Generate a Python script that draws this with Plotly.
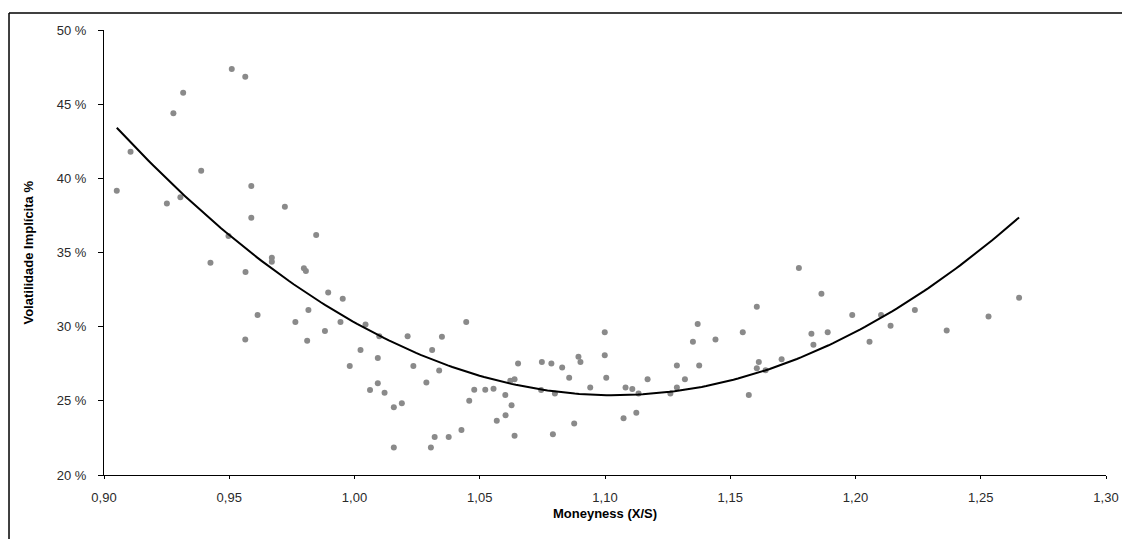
import numpy as np
import plotly.graph_objects as go

# Moneyness (X/S) and implied volatility (%)
moneyness = [
    0.9051, 0.9106, 0.9251, 0.9277, 0.9305, 0.9316, 0.9388, 0.9425, 0.9497, 0.9510,
    0.9564, 0.9564, 0.9565, 0.9588, 0.9588, 0.9613, 0.9670, 0.9670, 0.9722, 0.9764,
    0.9798, 0.9806, 0.9811, 0.9816, 0.9847, 0.9882, 0.9895, 0.9944, 0.9953, 0.9981,
    1.0024, 1.0044, 1.0062, 1.0093, 1.0093, 1.0099, 1.0120, 1.0157, 1.0157, 1.0189,
    1.0212, 1.0235, 1.0287, 1.0305, 1.0310, 1.0320, 1.0338, 1.0349, 1.0376, 1.0427,
    1.0446, 1.0458, 1.0478, 1.0522, 1.0555, 1.0568, 1.0602, 1.0603, 1.0622, 1.0627,
    1.0639, 1.0639, 1.0653, 1.0745, 1.0748, 1.0786, 1.0792, 1.0800, 1.0829, 1.0857,
    1.0877, 1.0894, 1.0902, 1.0941, 1.0999, 1.0999, 1.1005, 1.1074, 1.1082, 1.1109,
    1.1125, 1.1134, 1.1170, 1.1261, 1.1287, 1.1287, 1.1319, 1.1351, 1.1370, 1.1376,
    1.1441, 1.1550, 1.1574, 1.1606, 1.1606, 1.1614, 1.1641, 1.1705, 1.1774, 1.1824,
    1.1832, 1.1864, 1.1889, 1.1987, 1.2056, 1.2102, 1.2140, 1.2237, 1.2364, 1.2531,
    1.2653,
]
vol_implicita = [
    39.16, 41.80, 38.31, 44.38, 38.73, 45.77, 40.51, 34.31, 36.11, 47.37,
    46.85, 29.14, 33.68, 39.48, 37.34, 30.78, 34.65, 34.38, 38.09, 30.31,
    33.93, 33.75, 29.05, 31.12, 36.18, 29.70, 32.31, 30.31, 31.88, 27.34,
    28.42, 30.15, 25.73, 27.88, 26.18, 29.35, 25.55, 24.56, 21.86, 24.83,
    29.35, 27.34, 26.24, 21.86, 28.42, 22.56, 27.04, 29.32, 22.56, 23.03,
    30.31, 25.00, 25.75, 25.75, 25.82, 23.66, 25.39, 24.02, 26.35, 24.71,
    26.45, 22.64, 27.52, 25.73, 27.61, 27.52, 22.74, 25.50, 27.25, 26.56,
    23.48, 27.97, 27.61, 25.90, 29.62, 28.08, 26.56, 23.82, 25.90, 25.79,
    24.19, 25.50, 26.45, 25.50, 27.39, 25.90, 26.45, 28.98, 30.18, 27.39,
    29.14, 29.62, 25.39, 31.34, 27.19, 27.61, 27.07, 27.81, 33.95, 29.52,
    28.78, 32.22, 29.62, 30.78, 28.98, 30.78, 30.07, 31.12, 29.75, 30.69,
    31.95,
]

x_ticks = [0.90, 0.95, 1.00, 1.05, 1.10, 1.15, 1.20, 1.25, 1.30]
x_ticktext = ["0,90", "0,95", "1,00", "1,05", "1,10", "1,15", "1,20", "1,25", "1,30"]
y_ticks = [20, 25, 30, 35, 40, 45, 50]
y_ticktext = ["20 %", "25 %", "30 %", "35 %", "40 %", "45 %", "50 %"]

# Polynomial (order 2) trendline fitted on the data, as in the original chart
xa = np.array(moneyness)
ya = np.array(vol_implicita)
coef = np.polyfit(xa, ya, 2)
x_fit = np.linspace(xa.min(), xa.max(), 200)
y_fit = np.polyval(coef, x_fit)

fig = go.Figure()
fig.add_trace(go.Scatter(
    x=moneyness, y=vol_implicita, mode="markers",
    marker=dict(color="#8a8a8a", size=6, symbol="circle", line=dict(width=0)),
    showlegend=False, hoverinfo="x+y",
))
fig.add_trace(go.Scatter(
    x=x_fit, y=y_fit, mode="lines",
    line=dict(color="black", width=2),
    showlegend=False, hoverinfo="skip",
))

font_ticks = dict(family="Liberation Sans, Arial, sans-serif", size=13, color="#2a2a2a")
title_font = dict(family="Liberation Sans, Arial, sans-serif", size=13, color="black")
border = dict(color="black", width=1.5)
fig.update_layout(
    # the page body adds an 8px offset; the figure is sized to fit the rest
    width=1122, height=531,
    margin=dict(l=96, r=24, t=22, b=64),
    paper_bgcolor="white", plot_bgcolor="white",
    xaxis=dict(
        range=[0.90, 1.30], tickvals=x_ticks, ticktext=x_ticktext,
        showline=True, linecolor="black", linewidth=1, mirror=False,
        ticks="outside", ticklen=3, tickcolor="black", ticklabelstandoff=7,
        showgrid=False, zeroline=False, tickfont=font_ticks,
    ),
    yaxis=dict(
        range=[20, 50], tickvals=y_ticks, ticktext=y_ticktext,
        showline=True, linecolor="black", linewidth=1, mirror=False,
        ticks="outside", ticklen=5, tickcolor="black", ticklabelstandoff=9,
        showgrid=False, zeroline=False, tickfont=font_ticks,
    ),
    shapes=[
        # chart-area frame: only its top and left edges are visible in the reference
        dict(type="line", xref="paper", yref="paper",
             x0=-0.0948, x1=1.2, y0=1.038, y1=1.038, line=border, layer="below"),
        dict(type="line", xref="paper", yref="paper",
             x0=-0.0948, x1=-0.0948, y0=1.038, y1=-0.3, line=border, layer="below"),
    ],
    annotations=[
        dict(text="<b>Moneyness (X/S)</b>", xref="paper", yref="paper",
             x=0.5, y=-0.0854, xanchor="center", yanchor="middle", showarrow=False,
             font=title_font),
        dict(text="<b>Volatilidade Implícita %</b>", xref="paper", yref="paper",
             x=-0.0758, y=0.5, xanchor="center", yanchor="middle", showarrow=False,
             textangle=-90, font=title_font),
    ],
)

fig.write_html("out.html")
